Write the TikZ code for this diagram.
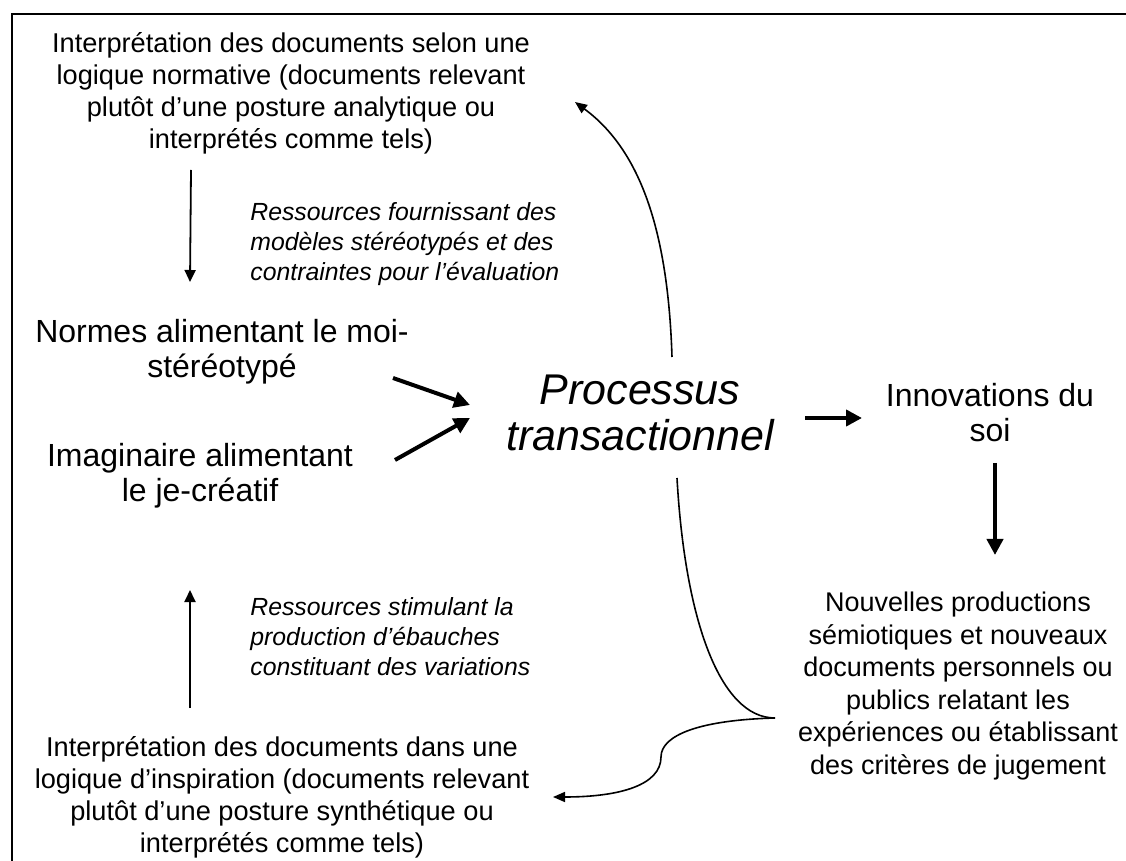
\documentclass[tikz,border=0pt]{standalone}
\usepackage{fontspec}
\setmainfont{Liberation Sans}
\usetikzlibrary{calc, arrows.meta}
\tikzstyle{doc} = [align=center, inner sep=0pt, font=\fontsize{13.6}{16}\selectfont]
\tikzstyle{res} = [align=left, inner sep=0pt, anchor=west, font=\fontsize{12.4}{15}\selectfont\itshape]
\tikzstyle{pole} = [align=center, inner sep=0pt, font=\fontsize{16}{17.5}\selectfont]
\tikzstyle{core} = [align=center, inner sep=0pt, font=\fontsize{21.5}{23}\selectfont\itshape]
\tikzstyle{prod} = [align=center, inner sep=0pt, font=\fontsize{13.5}{16.25}\selectfont]
\tikzstyle{line} = [draw, line width=0.9pt, -{Triangle[length=6pt,width=5.5pt]}]
\tikzstyle{boldline} = [draw, line width=2pt, -{Triangle[length=8pt,width=8pt]}]
\tikzstyle{curve} = [draw, line width=0.8pt, -{Triangle[length=6pt,width=5pt]}]

\begin{document}
\begin{tikzpicture}[x=0.5pt, y=-0.5pt]
\useasboundingbox (0,0) rectangle (1126,861);
\draw[line width=1.3pt] (12,14) rectangle (1140,875);
\node [doc] (normdoc) at (291,93) {Interprétation des documents selon une\\logique normative (documents relevant\\plutôt d’une posture analytique ou\\interprétés comme tels)};
\node [res] (normres) at (250,244) {Ressources fournissant des\\modèles stéréotypés et des\\contraintes pour l’évaluation};
\node [pole] (normes) at (222,352) {Normes alimentant le moi-\\stéréotypé};
\node [pole] (imag) at (200,476) {Imaginaire alimentant\\le je-créatif};
\node [core] (proc) at (640,413) {Processus\\transactionnel};
\node [pole] (innov) at (990,413) {Innovations du\\soi};
\node [prod] (prods) at (958,686) {Nouvelles productions\\sémiotiques et nouveaux\\documents personnels ou\\publics relatant les\\expériences ou établissant\\des critères de jugement};
\node [res] (inspres) at (250,637) {Ressources stimulant la\\production d’ébauches\\constituant des variations};
\node [doc] (inspdoc) at (282,797) {Interprétation des documents dans une\\logique d’inspiration (documents relevant\\plutôt d’une posture synthétique ou\\interprétés comme tels)};
% ressources
\path[line] ($(normdoc.center)+(-100,77)$) -- ($(normes.center)+(-32,-70)$);
\path[line] ($(inspdoc.center)+(-92,-89)$) -- ($(imag.center)+(-10,114)$);
% vers le processus
\path[boldline] ($(normes.center)+(171,26)$) -- ($(proc.center)+(-170,-8)$);
\path[boldline] ($(imag.center)+(195,-16)$) -- ($(proc.center)+(-170,5)$);
\path[boldline] ($(proc.center)+(165,5)$) -- ($(innov.center)+(-128,5)$);
\path[boldline] ($(innov.center)+(5,50)$) -- ($(prods.center)+(37,-131)$);
% retours
\path[curve] ($(proc.center)+(32,-56)$) .. controls ($(proc.center)+(28,-183)$) and ($(normdoc.center)+(349,57)$) .. ($(normdoc.center)+(284,9)$);
\coordinate (cusp) at ($(prods.center)+(-183,32)$);
\draw[line width=0.8pt] ($(proc.center)+(37,65)$) .. controls ($(proc.center)+(45,207)$) and ($(cusp)+(-55,0)$) .. (cusp);
\path[curve] (cusp) .. controls ($(cusp)+(-75,2)$) and ($(cusp)+(-114,17)$) .. ($(cusp)+(-114,39)$) .. controls ($(cusp)+(-114,67)$) and ($(inspdoc.center)+(338,0)$) .. ($(inspdoc.center)+(271,0)$);
\end{tikzpicture}
\end{document}
